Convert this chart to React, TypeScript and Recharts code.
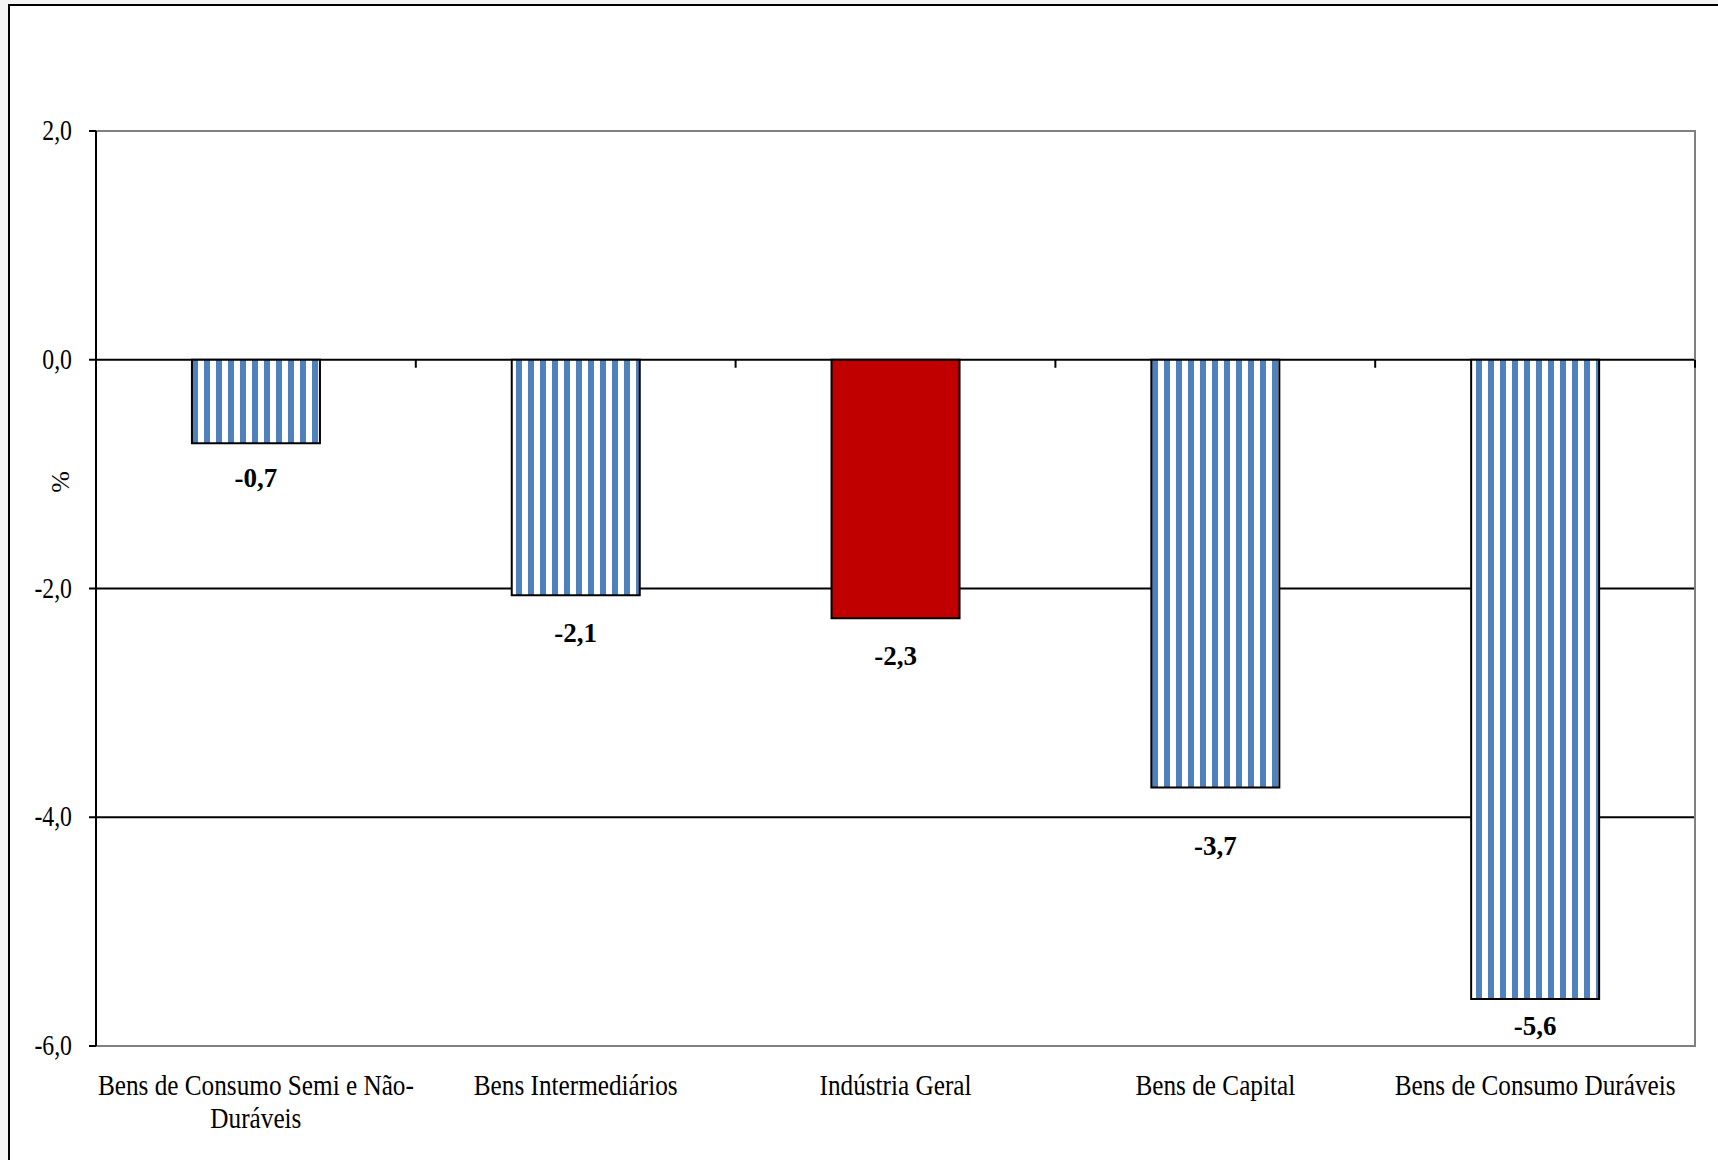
import { BarChart, Bar, XAxis, YAxis, CartesianGrid, ReferenceArea, LabelList, Cell } from "recharts";

const categories = [
  "Bens de Consumo Semi e Não-Duráveis",
  "Bens Intermediários",
  "Indústria Geral",
  "Bens de Capital",
  "Bens de Consumo Duráveis",
];
const values = [-0.73, -2.06, -2.26, -3.74, -5.59];
const yTicks = [2, 0, -2, -4, -6];

const data = categories.map((name, i) => ({ name, value: values[i] }));

// layout
const W = 1718;
const H = 1160;
const M = { top: 131, right: 23, left: 36, bottom: 14 };
const Y_W = 60;
const X_H = 100;
const PLOT_W = W - M.left - M.right - Y_W;
const PLOT_H = H - M.top - M.bottom - X_H;
const Y_MAX = 2;
const Y_MIN = -6;
const zeroY = M.top + (PLOT_H * (Y_MAX - 0)) / (Y_MAX - Y_MIN);
const band = PLOT_W / categories.length;
// the labels were nudged by hand in the original
const labelNudge = [0, 3, 3, 23, -8];

const FONT = "'Liberation Serif', 'Times New Roman', serif";
const fmt = (v: number) => v.toFixed(1).replace(".", ",");

function splitLabel(s: string) {
  // Excel wraps the long label after the hyphen
  const idx = s.indexOf("Não-");
  if (idx >= 0) return [s.slice(0, idx + 4), s.slice(idx + 4)];
  return [s];
}

const YTick = (props: any) => {
  const { x, y, payload } = props;
  return (
    <g transform={`translate(${x},${y}) scale(0.82,1)`}>
      <text x={0} y={0} dy={9} textAnchor="end" fontFamily={FONT} fontSize={29} fill="#000">
        {fmt(payload.value)}
      </text>
    </g>
  );
};

const XTick = (props: any) => {
  const { x, y, payload, index } = props;
  const lines = splitLabel(payload.value);
  return (
    <g>
      {index === 0 && (
        <line x1={x - band / 2} x2={x - band / 2} y1={zeroY} y2={zeroY + 8} stroke="#000" strokeWidth={2} />
      )}
      <line x1={x + band / 2} x2={x + band / 2} y1={zeroY} y2={zeroY + 8} stroke="#000" strokeWidth={2} />
      <g transform={`translate(${x},${y}) scale(0.87,1)`}>
        {lines.map((l, i) => (
          <text key={i} x={0} y={49 + i * 33} textAnchor="middle" fontFamily={FONT} fontSize={29} fill="#000">
            {l}
          </text>
        ))}
      </g>
    </g>
  );
};

const ValueLabel = (props: any) => {
  const { x, y, width, height, value, index } = props;
  const bottom = Math.max(y, y + height);
  return (
    <text
      x={x + width / 2}
      y={bottom + 44 + (labelNudge[index] || 0)}
      textAnchor="middle"
      fontFamily={FONT}
      fontWeight="bold"
      fontSize={27}
      fill="#000"
    >
      {fmt(value)}
    </text>
  );
};

export default function App() {
  return (
    <div style={{ position: "absolute", left: 0, top: 0, width: W, height: H, background: "#f4f4f4", overflow: "hidden" }}>
      <div
        style={{
          position: "absolute",
          left: 8,
          top: 4,
          width: W,
          height: H,
          borderLeft: "2px solid #000",
          borderTop: "2px solid #000",
          background: "#fff",
        }}
      />
      <div style={{ position: "absolute", left: 0, top: 0 }}>
        <BarChart width={W} height={H} data={data} margin={M} barCategoryGap="30%">
          <defs>
            <pattern id="stripes" patternUnits="userSpaceOnUse" x={0} y={0} width={12} height={10}>
              <rect x={0} y={0} width={12} height={10} fill="#fff" />
              <rect x={0} y={0} width={6} height={10} fill="#4F81BD" />
            </pattern>
          </defs>
          <CartesianGrid vertical={false} stroke="#000" strokeWidth={2} />
          <ReferenceArea y1={Y_MIN} y2={Y_MAX} fill="none" stroke="#808080" strokeWidth={2} />
          <XAxis
            dataKey="name"
            axisLine={false}
            tickLine={false}
            tickSize={0}
            tickMargin={0}
            interval={0}
            height={X_H}
            tick={<XTick />}
          />
          <YAxis
            domain={[Y_MIN, Y_MAX]}
            ticks={yTicks}
            width={Y_W}
            axisLine={{ stroke: "#000", strokeWidth: 2 }}
            tickLine={{ stroke: "#000", strokeWidth: 2 }}
            tickSize={7}
            tickMargin={17}
            tick={<YTick />}
            label={{
              content: () => (
                <text
                  x={60}
                  y={482}
                  transform="rotate(-90, 60, 482)"
                  textAnchor="middle"
                  dominantBaseline="central"
                  fontFamily={FONT}
                  fontSize={26}
                  fill="#000"
                >
                  %
                </text>
              ),
            }}
          />
          <Bar dataKey="value" stroke="#000" strokeWidth={2} isAnimationActive={false}>
            {data.map((d) => (
              <Cell key={d.name} fill={d.name === "Indústria Geral" ? "#C00000" : "url(#stripes)"} />
            ))}
            <LabelList dataKey="value" content={<ValueLabel />} />
          </Bar>
        </BarChart>
      </div>
    </div>
  );
}
